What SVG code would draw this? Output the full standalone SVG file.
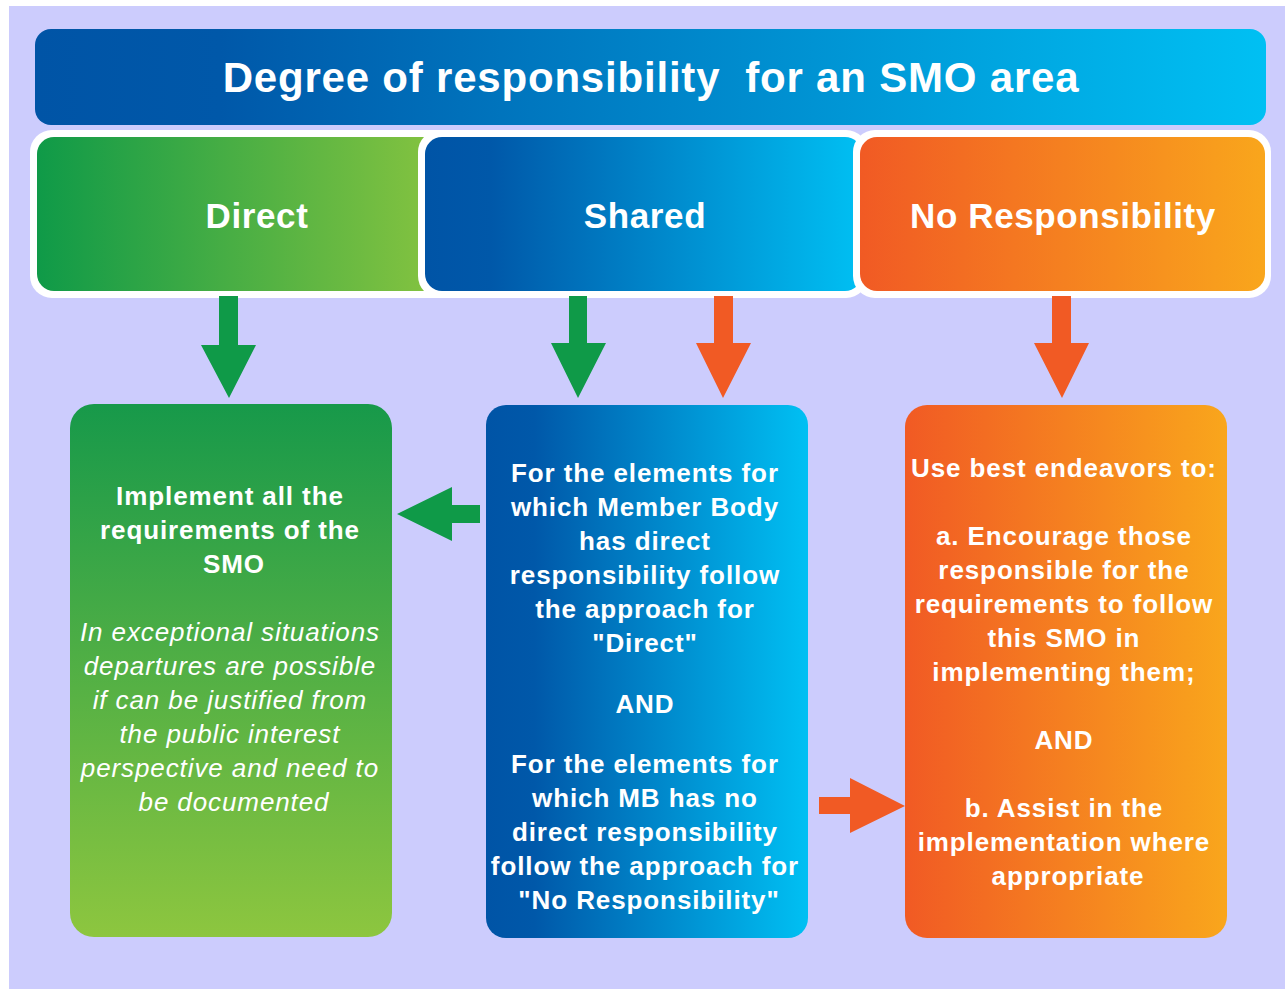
<svg xmlns="http://www.w3.org/2000/svg" width="1285" height="989" viewBox="0 0 1285 989">
<defs>
<linearGradient id="gBlue" x1="0" y1="0" x2="1" y2="0">
<stop offset="0" stop-color="#0054A6"/><stop offset="0.15" stop-color="#0058A9"/><stop offset="1" stop-color="#00C0F3"/>
</linearGradient>
<linearGradient id="gGreenH" x1="0" y1="0" x2="1" y2="0">
<stop offset="0" stop-color="#0F9A48"/><stop offset="1" stop-color="#8DC63F"/>
</linearGradient>
<linearGradient id="gGreenV" x1="0" y1="0" x2="0" y2="1">
<stop offset="0" stop-color="#17994A"/><stop offset="1" stop-color="#8DC63F"/>
</linearGradient>
<linearGradient id="gOrange" x1="0" y1="0" x2="1" y2="0">
<stop offset="0" stop-color="#F15A24"/><stop offset="1" stop-color="#F9A61C"/>
</linearGradient>
<style>
text{font-family:"Liberation Sans",Arial,sans-serif;fill:#fff;text-anchor:middle;font-weight:bold}
.title{font-size:42px;letter-spacing:0.8px}
.head{font-size:35px;letter-spacing:0.6px}
.body{font-size:26px;letter-spacing:0.9px}
.it{font-style:italic;font-weight:normal}
.frame{fill:#fff}
.gA{fill:#0F9A48}
.oA{fill:#F15A24}
</style>
</defs>
<rect x="0" y="0" width="1285" height="989" fill="#fff"/>
<rect x="9" y="6" width="1276" height="983" fill="#CCCCFD"/>

<g id="title">
<rect x="35" y="29" width="1231" height="96" rx="16" fill="url(#gBlue)"/>
<text class="title" x="651" y="92" xml:space="preserve">Degree of responsibility  for an SMO area</text>
</g>

<g id="direct">
<rect class="frame" x="30" y="130" width="440" height="168" rx="22"/>
<rect x="37" y="137" width="428" height="154" rx="17" fill="url(#gGreenH)"/>
<text class="head" x="257" y="228">Direct</text>
</g>

<g id="shared">
<rect class="frame" x="418" y="130" width="450" height="168" rx="22"/>
<rect x="425" y="137" width="437" height="154" rx="17" fill="url(#gBlue)"/>
<text class="head" x="645" y="228">Shared</text>
</g>

<g id="noresp">
<rect class="frame" x="853" y="130" width="418" height="168" rx="22"/>
<rect x="860" y="137" width="405" height="154" rx="17" fill="url(#gOrange)"/>
<text class="head" x="1063" y="228">No Responsibility</text>
</g>

<g id="direct-detail">
<rect x="70" y="404" width="322" height="533" rx="24" fill="url(#gGreenV)"/>
<text class="body" x="234">
<tspan x="234" y="505">Implement all the</tspan>
<tspan x="234" y="539">requirements of the</tspan>
<tspan x="234" y="573">SMO</tspan>
</text>
<text class="body it" x="234">
<tspan x="234" y="641">In exceptional situations</tspan>
<tspan x="234" y="675">departures are possible</tspan>
<tspan x="234" y="709">if can be justified from</tspan>
<tspan x="234" y="743">the public interest</tspan>
<tspan x="234" y="777">perspective and need to</tspan>
<tspan x="234" y="811">be documented</tspan>
</text>
</g>

<g id="shared-detail">
<rect x="486" y="405" width="322" height="533" rx="20" fill="url(#gBlue)"/>
<text class="body" x="649">
<tspan x="649" y="482">For the elements for</tspan>
<tspan x="649" y="516">which Member Body</tspan>
<tspan x="649" y="550">has direct</tspan>
<tspan x="649" y="584">responsibility follow</tspan>
<tspan x="649" y="618">the approach for</tspan>
<tspan x="649" y="652">"Direct"</tspan>
<tspan x="649" y="713">AND</tspan>
<tspan x="649" y="773">For the elements for</tspan>
<tspan x="649" y="807">which MB has no</tspan>
<tspan x="649" y="841">direct responsibility</tspan>
<tspan x="649" y="875">follow the approach for</tspan>
<tspan x="649" y="909">"No Responsibility"</tspan>
</text>
</g>

<g id="noresp-detail">
<rect x="905" y="405" width="322" height="533" rx="22" fill="url(#gOrange)"/>
<text class="body" x="1068">
<tspan x="1068" y="477">Use best endeavors to:</tspan>
<tspan x="1068" y="545">a. Encourage those</tspan>
<tspan x="1068" y="579">responsible for the</tspan>
<tspan x="1068" y="613">requirements to follow</tspan>
<tspan x="1068" y="647">this SMO in</tspan>
<tspan x="1068" y="681">implementing them;</tspan>
<tspan x="1068" y="749">AND</tspan>
<tspan x="1068" y="817">b. Assist in the</tspan>
<tspan x="1068" y="851">implementation where</tspan>
<tspan x="1068" y="885">appropriate</tspan>
</text>
</g>

<g id="connectors">
<polygon class="gA" points="219,296 238,296 238,345 256,345 229,398 201,345 219,345"/>
<polygon class="gA" points="569,296 587,296 587,343 606,343 578,398 551,343 569,343"/>
<polygon class="oA" points="714,296 733,296 733,343 751,343 723,398 696,343 714,343"/>
<polygon class="oA" points="1052,296 1071,296 1071,343 1089,343 1062,398 1034,343 1052,343"/>
<polygon class="gA" points="480,505 480,523 452,523 452,541 397,514 452,487 452,505"/>
<polygon class="oA" points="819,797 850,797 850,778 905,806 850,833 850,814 819,814"/>
</g>
</svg>
